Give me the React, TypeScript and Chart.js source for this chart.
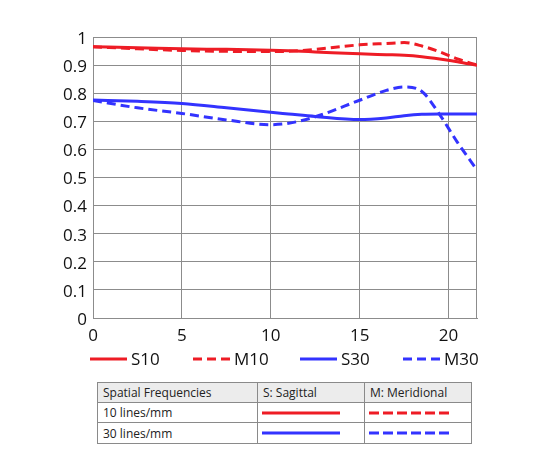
import React, { useEffect, useRef } from "react";
import { Chart, registerables } from "chart.js";

Chart.register(...registerables);

// Image height positions (mm) at which the MTF values were read
const fieldX = [0, 2.5, 5, 7.5, 10, 11, 12.5, 15, 16.5, 17.5, 18.5, 19.5, 20.5, 21.6];
const s10 = [0.965, 0.962, 0.958, 0.956, 0.953, 0.951, 0.947, 0.94, 0.937, 0.935, 0.93, 0.922, 0.912, 0.899];
const m10 = [0.965, 0.958, 0.952, 0.949, 0.948, 0.949, 0.956, 0.972, 0.977, 0.98, 0.968, 0.947, 0.922, 0.9];
const s30 = [0.776, 0.771, 0.763, 0.748, 0.732, 0.726, 0.717, 0.706, 0.712, 0.72, 0.725, 0.726, 0.726, 0.726];
const m30 = [0.774, 0.748, 0.728, 0.705, 0.688, 0.693, 0.716, 0.775, 0.81, 0.822, 0.806, 0.724, 0.625, 0.527];

const seriesLabels = ["S10", "M10", "S30", "M30"];
const xTicks = [0, 5, 10, 15, 20];
const yTicks = [0, 0.1, 0.2, 0.3, 0.4, 0.5, 0.6, 0.7, 0.8, 0.9, 1];
const xMax = 21.6;

const tableHeader = ["Spatial Frequencies", "S: Sagittal", "M: Meridional"];
const tableRows = ["10 lines/mm", "30 lines/mm"];

const RED = "#ee1c25";
const BLUE = "#3333ff";
const GRID = "#8c8c8c";
const FONT = "'Open Sans', 'DejaVu Sans', sans-serif";

// legend layout (relative to the plot area's left edge / bottom edge)
const legendItemOffsets = [-3, 100, 207, 310];
const legendLineLength = 37;
const legendGap = 4;
const legendDrop = 41;

const toPoints = (vals: number[]) => vals.map((v, i) => ({ x: fieldX[i], y: v }));

const rightFrame = {
  id: "rightFrame",
  beforeDatasetsDraw(chart: any) {
    const { ctx, chartArea } = chart;
    ctx.save();
    ctx.strokeStyle = GRID;
    ctx.lineWidth = 1;
    ctx.beginPath();
    const x = Math.round(chartArea.right) - 0.5;
    ctx.moveTo(x, chartArea.top);
    ctx.lineTo(x, chartArea.bottom);
    ctx.stroke();
    ctx.restore();
  },
};

const lineLegend = {
  id: "lineLegend",
  afterDraw(chart: any) {
    const { ctx, chartArea } = chart;
    const y = chartArea.bottom + legendDrop;
    ctx.save();
    chart.data.datasets.forEach((ds: any, i: number) => {
      const x0 = chartArea.left + legendItemOffsets[i];
      ctx.strokeStyle = ds.borderColor;
      ctx.lineWidth = ds.borderWidth;
      ctx.setLineDash(ds.borderDash || []);
      ctx.beginPath();
      ctx.moveTo(x0, y);
      ctx.lineTo(x0 + legendLineLength, y);
      ctx.stroke();
      ctx.setLineDash([]);
      ctx.fillStyle = "#111";
      ctx.font = `17px ${FONT}`;
      ctx.textBaseline = "middle";
      ctx.textAlign = "left";
      ctx.fillText(ds.label, x0 + legendLineLength + legendGap, y + 1);
    });
    ctx.restore();
  },
};

function MtfChart() {
  const ref = useRef<HTMLCanvasElement | null>(null);
  useEffect(() => {
    if (!ref.current) return;
    const mk = (label: string, vals: number[], color: string, dashed: boolean) => ({
      label,
      data: toPoints(vals),
      borderColor: color,
      backgroundColor: color,
      borderWidth: 3,
      borderDash: dashed ? [9, 5] : [],
      pointRadius: 0,
      cubicInterpolationMode: "monotone" as const,
      fill: false,
    });
    const chart = new Chart(ref.current, {
      type: "line",
      data: {
        datasets: [
          mk(seriesLabels[0], s10, RED, false),
          mk(seriesLabels[1], m10, RED, true),
          mk(seriesLabels[2], s30, BLUE, false),
          mk(seriesLabels[3], m30, BLUE, true),
        ],
      },
      options: {
        animation: false,
        responsive: true,
        maintainAspectRatio: false,
        layout: { padding: { top: 37, right: 73, left: 0, bottom: 32 } },
        plugins: {
          tooltip: { enabled: false },
          legend: { display: false },
        },
        scales: {
          x: {
            type: "linear",
            min: 0,
            max: xMax,
            afterBuildTicks: (axis: any) => {
              axis.ticks = xTicks.map((v) => ({ value: v }));
            },
            afterFit: (axis: any) => {
              axis.height = 30;
            },
            grid: { color: GRID, lineWidth: 1, drawTicks: false },
            border: { color: GRID },
            ticks: {
              padding: 8,
              color: "#111",
              font: { family: FONT, size: 17 },
              maxRotation: 0,
              autoSkip: false,
            },
          },
          y: {
            type: "linear",
            min: 0,
            max: 1,
            afterBuildTicks: (axis: any) => {
              axis.ticks = yTicks.map((v) => ({ value: v }));
            },
            afterFit: (axis: any) => {
              axis.width = 93;
            },
            grid: { color: GRID, lineWidth: 1, drawTicks: false },
            border: { color: GRID },
            ticks: {
              padding: 6,
              labelOffset: 2,
              color: "#111",
              font: { family: FONT, size: 17 },
              callback: (v: any) => (v === 0 ? "0" : v === 1 ? "1" : Number(v).toFixed(1)),
            },
          },
        },
      },
      plugins: [rightFrame, lineLegend],
    });
    return () => chart.destroy();
  }, []);
  return (
    <div style={{ position: "absolute", left: 0, top: 0, width: 550, height: 380 }}>
      <canvas ref={ref} />
    </div>
  );
}

function LineSample({ color, dashed }: { color: string; dashed: boolean }) {
  return (
    <svg width={80} height={6} style={{ display: "block" }}>
      <line
        x1={0}
        y1={3}
        x2={dashed ? 80 : 78}
        y2={3}
        stroke={color}
        strokeWidth={3}
        strokeDasharray={dashed ? "10 4" : undefined}
      />
    </svg>
  );
}

const cellBase: React.CSSProperties = {
  border: "1px solid #8a8a8a",
  padding: "0 0 0 5px",
  fontFamily: FONT,
  fontSize: 12,
  color: "#222",
  textAlign: "left",
  verticalAlign: "middle",
  whiteSpace: "nowrap",
};

function LegendTable() {
  const colors = [RED, BLUE];
  return (
    <table
      style={{
        position: "absolute",
        left: 97,
        top: 382,
        width: 374,
        borderCollapse: "collapse",
        tableLayout: "fixed",
      }}
    >
      <colgroup>
        <col style={{ width: 160 }} />
        <col style={{ width: 107 }} />
        <col style={{ width: 107 }} />
      </colgroup>
      <tbody>
        <tr style={{ height: 20, background: "#ececec" }}>
          {tableHeader.map((h) => (
            <td key={h} style={cellBase}>
              {h}
            </td>
          ))}
        </tr>
        {tableRows.map((r, i) => (
          <tr key={r} style={{ height: i === 0 ? 20 : 21 }}>
            <td style={cellBase}>{r}</td>
            <td style={{ ...cellBase, paddingLeft: 4 }}>
              <LineSample color={colors[i]} dashed={false} />
            </td>
            <td style={{ ...cellBase, paddingLeft: 4 }}>
              <LineSample color={colors[i]} dashed={true} />
            </td>
          </tr>
        ))}
      </tbody>
    </table>
  );
}

export default function App() {
  return (
    <div>
      <MtfChart />
      <LegendTable />
    </div>
  );
}
